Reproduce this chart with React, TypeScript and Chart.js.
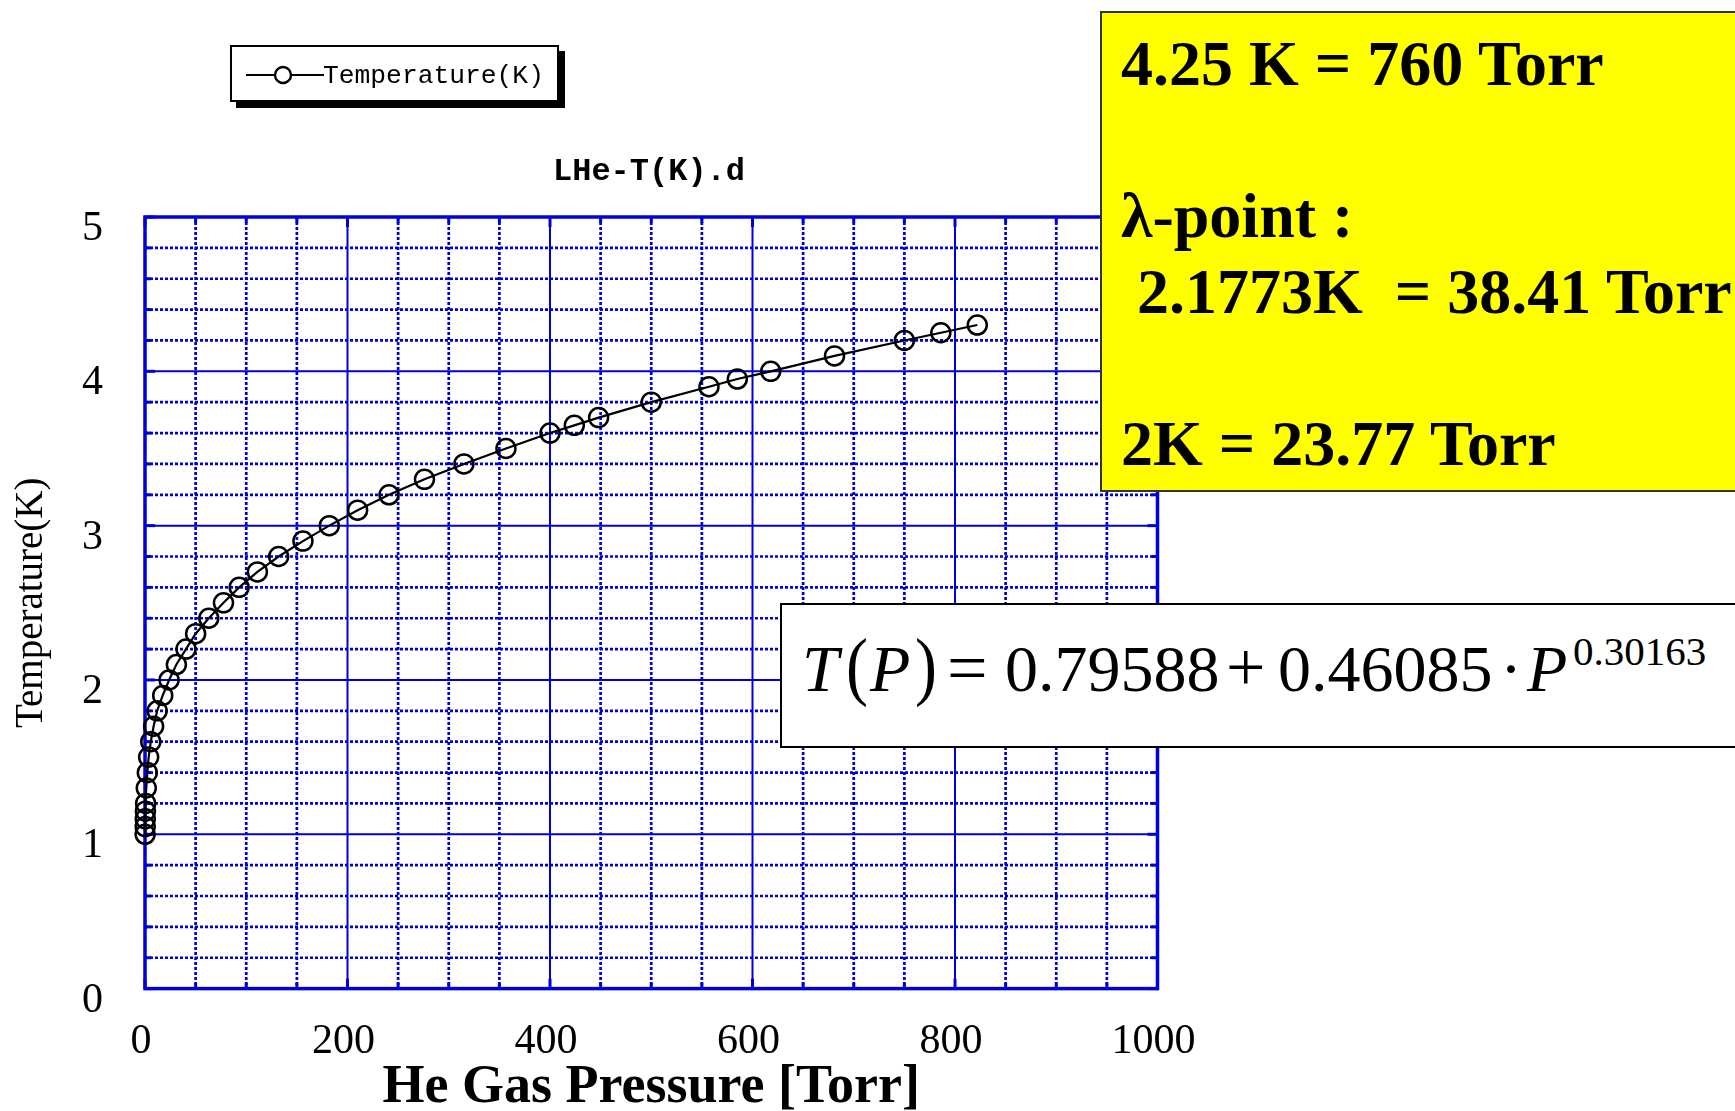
import React, { useEffect, useRef } from 'react';
import { Chart, registerables } from 'chart.js';

Chart.register(...registerables);

// ---- data ----
const temperatureK = [1.0, 1.05, 1.1, 1.15, 1.2, 1.3, 1.4, 1.5, 1.6, 1.7, 1.8, 1.9, 2.0, 2.1, 2.2, 2.3, 2.4, 2.5, 2.6, 2.7, 2.8, 2.9, 3.0, 3.1, 3.2, 3.3, 3.4, 3.5, 3.6, 3.65, 3.7, 3.8, 3.9, 3.95, 4.0, 4.1, 4.2, 4.25, 4.3];
const pressureTorr = [0.12, 0.2, 0.28, 0.42, 0.62, 1.25, 2.3, 3.6, 5.7, 8.5, 12, 17.5, 23.8, 31, 40.5, 50, 63, 77.5, 93, 111, 132, 156, 182, 210, 241, 276, 315, 356.5, 400, 424, 448, 500, 557, 585, 618, 681, 750, 786, 822];
const xTickLabels = ['0', '200', '400', '600', '800', '1000'];
const yTickLabels = ['0', '1', '2', '3', '4', '5'];
const seriesLabel = 'Temperature(K)';
const chartTitle = 'LHe-T(K).d';
const xAxisTitle = 'He Gas Pressure [Torr]';
const yAxisTitle = 'Temperature(K)';

const BLUE = '#0000DD';
const SERIF = '"Liberation Serif", "Times New Roman", serif';
const MONO = '"Liberation Mono", "Courier New", monospace';

const gridPlugin = {
  id: 'customGrid',
  beforeDatasetsDraw(chart: any) {
    const { ctx, chartArea: a, scales } = chart;
    const x = scales.x;
    const y = scales.y;
    const isMajorX = (v: number) => Math.abs(v / 200 - Math.round(v / 200)) < 1e-6;
    const isMajorY = (v: number) => Math.abs(v - Math.round(v)) < 1e-6;
    ctx.save();
    ctx.strokeStyle = BLUE;
    const line = (x1: number, y1: number, x2: number, y2: number) => {
      ctx.beginPath();
      ctx.moveTo(x1, y1);
      ctx.lineTo(x2, y2);
      ctx.stroke();
    };
    // minor dotted grid
    ctx.lineWidth = 2.7;
    ctx.setLineDash([3, 2]);
    x.ticks.forEach((t: any) => {
      if (!isMajorX(t.value)) {
        const p = x.getPixelForValue(t.value);
        line(p, a.top, p, a.bottom);
      }
    });
    y.ticks.forEach((t: any) => {
      if (!isMajorY(t.value)) {
        const p = y.getPixelForValue(t.value);
        line(a.left, p, a.right, p);
      }
    });
    // major solid grid
    ctx.setLineDash([]);
    ctx.lineWidth = 2;
    x.ticks.forEach((t: any) => {
      if (isMajorX(t.value)) {
        const p = x.getPixelForValue(t.value);
        line(p, a.top, p, a.bottom);
      }
    });
    y.ticks.forEach((t: any) => {
      if (isMajorY(t.value)) {
        const p = y.getPixelForValue(t.value);
        line(a.left, p, a.right, p);
      }
    });
    // inward tick marks
    ctx.lineWidth = 3;
    x.ticks.forEach((t: any) => {
      const p = x.getPixelForValue(t.value);
      const len = isMajorX(t.value) ? 10 : 6;
      line(p, a.bottom, p, a.bottom - len);
      line(p, a.top, p, a.top + len);
    });
    y.ticks.forEach((t: any) => {
      const p = y.getPixelForValue(t.value);
      const len = isMajorY(t.value) ? 10 : 6;
      line(a.left, p, a.left + len, p);
      line(a.right, p, a.right - len, p);
    });
    // frame
    ctx.lineWidth = 3.5;
    ctx.strokeRect(a.left, a.top, a.right - a.left, a.bottom - a.top);
    ctx.restore();
  },
};

export default function App() {
  const canvasRef = useRef<HTMLCanvasElement | null>(null);

  useEffect(() => {
    if (!canvasRef.current) return;
    const points = pressureTorr.map((p, i) => ({ x: p, y: temperatureK[i] }));
    const chart = new Chart(canvasRef.current, {
      type: 'line',
      data: {
        datasets: [
          {
            label: seriesLabel,
            data: points,
            borderColor: '#000',
            borderWidth: 2.2,
            backgroundColor: 'rgba(0,0,0,0)',
            pointStyle: 'circle',
            pointRadius: 9.5,
            pointBorderWidth: 2.5,
            pointBorderColor: '#000',
            pointBackgroundColor: 'rgba(0,0,0,0)',
            tension: 0,
            clip: false as any,
          },
        ],
      },
      options: {
        animation: false,
        responsive: false,
        maintainAspectRatio: false,
        devicePixelRatio: 1,
        events: [],
        layout: { padding: { left: 0, right: 577.5, top: 217, bottom: 0 } },
        plugins: {
          legend: { display: false },
          title: { display: false },
          tooltip: { enabled: false },
        },
        scales: {
          x: {
            type: 'linear',
            min: 0,
            max: 1000,
            grid: { display: false },
            border: { display: false },
            ticks: {
              stepSize: 50,
              autoSkip: false,
              maxRotation: 0,
              padding: 20,
              labelOffset: -4,
              color: '#000',
              font: { family: SERIF, size: 42 },
              callback: (v: any) => {
                const s = String(Math.round(Number(v)));
                return xTickLabels.includes(s) && Math.abs(Number(v) % 200) < 1e-6 ? s : '';
              },
            },
            title: {
              display: true,
              text: xAxisTitle,
              color: '#000',
              font: { family: SERIF, size: 54, weight: 'bold', lineHeight: 0.85 },
              padding: { top: 0, bottom: 0 },
            },
            afterFit: (s: any) => {
              s.height = 122.4;
            },
          },
          y: {
            type: 'linear',
            min: 0,
            max: 5,
            grid: { display: false },
            border: { display: false },
            ticks: {
              stepSize: 0.2,
              autoSkip: false,
              padding: 34,
              labelOffset: 12,
              color: '#000',
              font: { family: SERIF, size: 42 },
              callback: (v: any) => {
                const n = Number(v);
                if (Math.abs(n - Math.round(n)) > 1e-6) return '';
                const s = String(Math.round(n));
                return yTickLabels.includes(s) ? s : '';
              },
            },
            title: {
              display: true,
              text: yAxisTitle,
              color: '#000',
              font: { family: SERIF, size: 39, lineHeight: 1.2 },
              padding: { top: 8, bottom: 0 },
            },
            afterFit: (s: any) => {
              s.width = 145;
            },
          },
        },
      } as any,
      plugins: [gridPlugin],
    });
    return () => chart.destroy();
  }, []);

  const formulaPiece = (text: string, left: number, opts: any = {}) => (
    <span
      style={{
        position: 'absolute',
        left,
        top: opts.top ?? 636,
        fontFamily: SERIF,
        fontSize: opts.size ?? 66,
        lineHeight: `${opts.size ?? 66}px`,
        fontStyle: opts.italic ? 'italic' : 'normal',
        whiteSpace: 'pre',
        color: '#000',
        transform: opts.scaleY ? `scaleY(${opts.scaleY})` : undefined,
        transformOrigin: 'left 80%',
      }}
    >
      {text}
    </span>
  );

  return (
    <div
      style={{
        position: 'absolute',
        left: 0,
        top: 0,
        width: 1735,
        height: 1111,
        overflow: 'hidden',
        background: '#fff',
      }}
    >
      <canvas
        ref={canvasRef}
        width={1735}
        height={1111}
        style={{ position: 'absolute', left: 0, top: 0, width: 1735, height: 1111 }}
      />

      {/* chart title */}
      <div
        style={{
          position: 'absolute',
          left: 449,
          width: 400,
          top: 156,
          textAlign: 'center',
          fontFamily: MONO,
          fontWeight: 'bold',
          fontSize: 32,
          lineHeight: '32px',
          color: '#000',
        }}
      >
        {chartTitle}
      </div>

      {/* legend */}
      <div
        style={{
          position: 'absolute',
          left: 230,
          top: 45,
          width: 325,
          height: 53,
          border: '2px solid #000',
          background: '#fff',
          boxShadow: '6px 6px 0 #000',
        }}
      >
        <svg width={90} height={53} style={{ position: 'absolute', left: 14, top: 0 }}>
          <line x1={0} y1={28} x2={78} y2={28} stroke="#000" strokeWidth={2} />
          <circle cx={37} cy={28} r={8} fill="#fff" stroke="#000" strokeWidth={2.4} />
        </svg>
        <span
          style={{
            position: 'absolute',
            left: 91,
            top: 16,
            fontFamily: MONO,
            fontSize: 26.3,
            lineHeight: '26px',
            color: '#000',
            whiteSpace: 'pre',
          }}
        >
          {seriesLabel}
        </span>
      </div>

      {/* yellow note box */}
      <div
        style={{
          position: 'absolute',
          left: 1100,
          top: 11,
          width: 700,
          height: 477,
          border: '2px solid #333',
          background: '#FFFF00',
          boxSizing: 'content-box',
        }}
      >
        <div
          style={{
            position: 'absolute',
            left: 19,
            top: 13,
            fontFamily: SERIF,
            fontWeight: 'bold',
            fontSize: 64,
            lineHeight: '76px',
            whiteSpace: 'pre',
            color: '#000',
          }}
        >
          {'4.25 K = 760 Torr\n\n\u03bb-point :\n 2.1773K  = 38.41 Torr\n\n2K = 23.77 Torr'}
        </div>
      </div>

      {/* formula box */}
      <div
        style={{
          position: 'absolute',
          left: 780,
          top: 603,
          width: 1000,
          height: 141,
          border: '2px solid #000',
          background: '#fff',
        }}
      />
      {formulaPiece('T', 802, { italic: true })}
      {formulaPiece('(', 846, { scaleY: 1.15 })}
      {formulaPiece('P', 870, { italic: true })}
      {formulaPiece(')', 915, { scaleY: 1.15 })}
      {formulaPiece('=', 947, { size: 72, top: 632 })}
      {formulaPiece('0.79588', 1005)}
      {formulaPiece('+', 1226, { size: 70, top: 633 })}
      {formulaPiece('0.46085', 1278)}
      {formulaPiece('\u00b7', 1500)}
      {formulaPiece('P', 1527, { italic: true })}
      {formulaPiece('0.30163', 1573, { size: 41, top: 631 })}
    </div>
  );
}
